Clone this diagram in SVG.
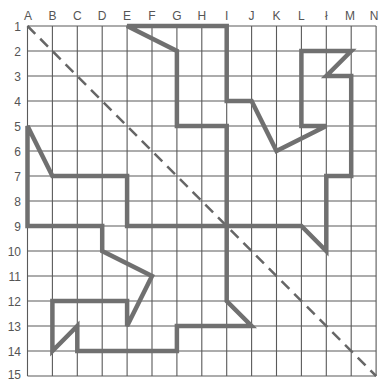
<svg xmlns="http://www.w3.org/2000/svg" width="380" height="381" viewBox="0 0 380 381">
<style>
.grid{stroke:#5a5a5a;stroke-width:1.1;fill:none}
.lbl{font-family:"Liberation Sans",Arial,sans-serif;font-size:12px;fill:#555}
.col{text-anchor:middle}
.row{text-anchor:end}
.diag{stroke:#666;stroke-width:2.5;stroke-dasharray:11 7;fill:none}
.fig{stroke:#707070;stroke-width:4.5;fill:none;stroke-linejoin:miter}
</style>
<rect width="380" height="381" fill="#fff"/>
<g id="grid" class="grid">
<path d="M27.5,26V376M52.4,26V376M77.3,26V376M102.2,26V376M127.1,26V376M152,26V376M176.9,26V376M201.8,26V376M226.7,26V376M251.6,26V376M276.5,26V376M301.4,26V376M326.3,26V376M351.2,26V376M376.1,26V376"/>
<path d="M27.5,26H376.1M27.5,51H376.1M27.5,76H376.1M27.5,101H376.1M27.5,126H376.1M27.5,151H376.1M27.5,176H376.1M27.5,201H376.1M27.5,226H376.1M27.5,251H376.1M27.5,276H376.1M27.5,301H376.1M27.5,326H376.1M27.5,351H376.1M27.5,376H376.1"/>
</g>
<g id="col-labels" class="lbl col">
<text x="28" y="20">A</text><text x="52.4" y="20">B</text><text x="77.3" y="20">C</text><text x="102.2" y="20">D</text><text x="127.1" y="20">E</text><text x="152" y="20">F</text><text x="176.9" y="20">G</text><text x="201.8" y="20">H</text><text x="226.7" y="20">I</text><text x="251.6" y="20">J</text><text x="276.5" y="20">K</text><text x="301.4" y="20">L</text><text x="326.3" y="20">ł</text><text x="350" y="20">M</text><text x="374" y="20">N</text>
</g>
<g id="row-labels" class="lbl row">
<text x="21" y="31">1</text><text x="21" y="56">2</text><text x="21" y="81">3</text><text x="21" y="106">4</text><text x="21" y="131">5</text><text x="21" y="156">6</text><text x="21" y="181">7</text><text x="21" y="206">8</text><text x="21" y="231">9</text><text x="21" y="256">10</text><text x="21" y="281">11</text><text x="21" y="306">12</text><text x="21" y="331">13</text><text x="21" y="356">14</text><text x="21" y="378.5">15</text>
</g>
<g id="diagonal">
<line class="diag" x1="27.5" y1="26" x2="376.1" y2="376"/>
</g>
<g id="figure">
<polygon class="fig" points="127.1,26 226.7,26 226.7,101 251.6,101 276.5,151 326.3,126 301.4,126 301.4,51 351.2,51 326.3,76 351.2,76 351.2,176 326.3,176 326.3,251 301.4,226 127.1,226 127.1,176 52.4,176 27.5,126 27.5,226 102.2,226 102.2,251 152,276 127.1,326 127.1,301 52.4,301 52.4,351 77.3,326 77.3,351 176.9,351 176.9,326 251.6,326 226.7,301 226.7,126 176.9,126 176.9,51"/>
</g>
</svg>
